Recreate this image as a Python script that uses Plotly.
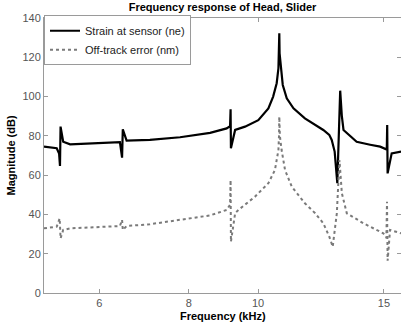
import plotly.graph_objects as go

# Frequency (kHz) and magnitude (dB)
strain_freq = [5.02, 5.15, 5.23, 5.27, 5.285, 5.295, 5.34, 5.46, 6.01, 6.41, 6.455, 6.47, 6.55,
               7.06, 7.78, 8.03, 8.57, 9.04, 9.14, 9.155, 9.165, 9.29, 9.59, 10.01, 10.34,
               10.50, 10.62, 10.68, 10.70, 10.71, 10.72, 10.76, 10.83, 10.97, 11.21, 11.63, 12.02,
               12.34, 12.58, 12.68, 12.80, 12.91, 13.03, 13.10, 13.17, 13.74, 14.35, 14.82, 15.14,
               15.16, 15.18, 15.38, 15.85]
strain_db = [74.5, 74.2, 73.7, 71.0, 64.7, 84.7, 77.0, 75.7, 76.2, 76.8, 68.9, 83.3, 77.6,
             78.0, 79.3, 80.0, 81.5, 83.8, 85.0, 93.5, 73.7, 83.0, 84.7, 88.0, 94.0,
             100.0, 106.8, 114.4, 122.0, 132.2, 122.0, 114.4, 105.9, 99.1, 94.0, 88.9, 85.5,
             83.0, 80.5, 77.9, 72.0, 55.9, 103.0, 90.0, 83.0, 77.0, 75.5, 74.5, 73.0,
             85.5, 60.9, 71.1, 72.0]

offtrack_freq = [5.02, 5.23, 5.28, 5.295, 5.34, 5.46, 6.41, 6.455, 6.47, 6.55, 7.06, 8.03, 8.57,
                 9.04, 9.14, 9.155, 9.165, 9.29, 9.39, 9.90, 10.34, 10.56, 10.68, 10.70, 10.71,
                 10.73, 10.79, 10.91, 11.15, 11.63, 12.02, 12.34, 12.58, 12.72, 12.89, 13.00,
                 13.10, 13.31, 14.04, 14.97, 15.12, 15.15, 15.18, 15.30, 15.85]
offtrack_db = [32.9, 33.8, 38.0, 27.8, 32.1, 32.9, 34.1, 37.2, 32.1, 34.1, 35.0, 37.8, 39.5,
               42.3, 45.0, 57.5, 26.1, 40.6, 42.3, 49.0, 55.9, 62.6, 72.8, 80.0, 89.8,
               80.0, 72.8, 62.6, 54.1, 45.7, 40.6, 35.5, 28.7, 23.6, 40.6, 67.7,
               50.8, 40.6, 35.5, 30.4, 28.0, 46.5, 16.4, 32.1, 30.4]

x_ticks = [6, 8, 10, 15]
y_ticks = [0, 20, 40, 60, 80, 100, 120, 140]

font_family = "Liberation Sans, Arial, sans-serif"

fig = go.Figure()
fig.add_trace(go.Scatter(x=strain_freq, y=strain_db, mode="lines",
                         name="Strain at sensor (ne)",
                         line=dict(color="black", width=2.2)))
fig.add_trace(go.Scatter(x=offtrack_freq, y=offtrack_db, mode="lines",
                         name="Off-track error (nm)",
                         line=dict(color="#7a7a7a", width=2, dash="dot")))

axis_common = dict(showgrid=False, zeroline=False, showline=True, linecolor="#9a9a9a",
                   linewidth=1, mirror="ticks", ticks="inside", ticklen=4, tickcolor="#9a9a9a",
                   automargin=False,
                   tickfont=dict(family=font_family, size=11, color="#555555"))

fig.update_layout(
    width=401, height=328,
    margin=dict(l=44, r=0, t=18, b=35),
    paper_bgcolor="white", plot_bgcolor="white",
    font=dict(family=font_family),
    title=dict(text="<b>Frequency response of Head, Slider</b>", x=0.5, xref="paper",
               y=1 - 7 / 328, yref="container", yanchor="middle", xanchor="center",
               font=dict(size=11, color="black"), automargin=False),
    showlegend=True,
    legend=dict(x=0, y=1.01, xanchor="left", yanchor="top", bgcolor="white",
                bordercolor="#9a9a9a", borderwidth=1, font=dict(size=11, color="#222"),
                tracegroupgap=0, itemwidth=30),
    xaxis=dict(type="log", range=[0.7007, 1.2], tickvals=x_ticks,
               ticktext=[str(v) for v in x_ticks], **axis_common),
    yaxis=dict(range=[0, 140], tickvals=y_ticks, **axis_common),
    annotations=[
        dict(text="<b>Frequency (kHz)</b>", x=0.5, y=0, xref="paper", yref="paper",
             yshift=-23, xanchor="center", yanchor="middle", showarrow=False,
             font=dict(size=11, color="black")),
        dict(text="<b>Magnitude (dB)</b>", x=0, y=0.5, xref="paper", yref="paper",
             xshift=-34, xanchor="center", yanchor="middle", showarrow=False, textangle=-90,
             font=dict(size=11, color="black")),
    ],
)

fig.write_html("out.html", config={"displayModeBar": False},
               post_script="document.body.style.margin='0';document.body.style.padding='0';")
